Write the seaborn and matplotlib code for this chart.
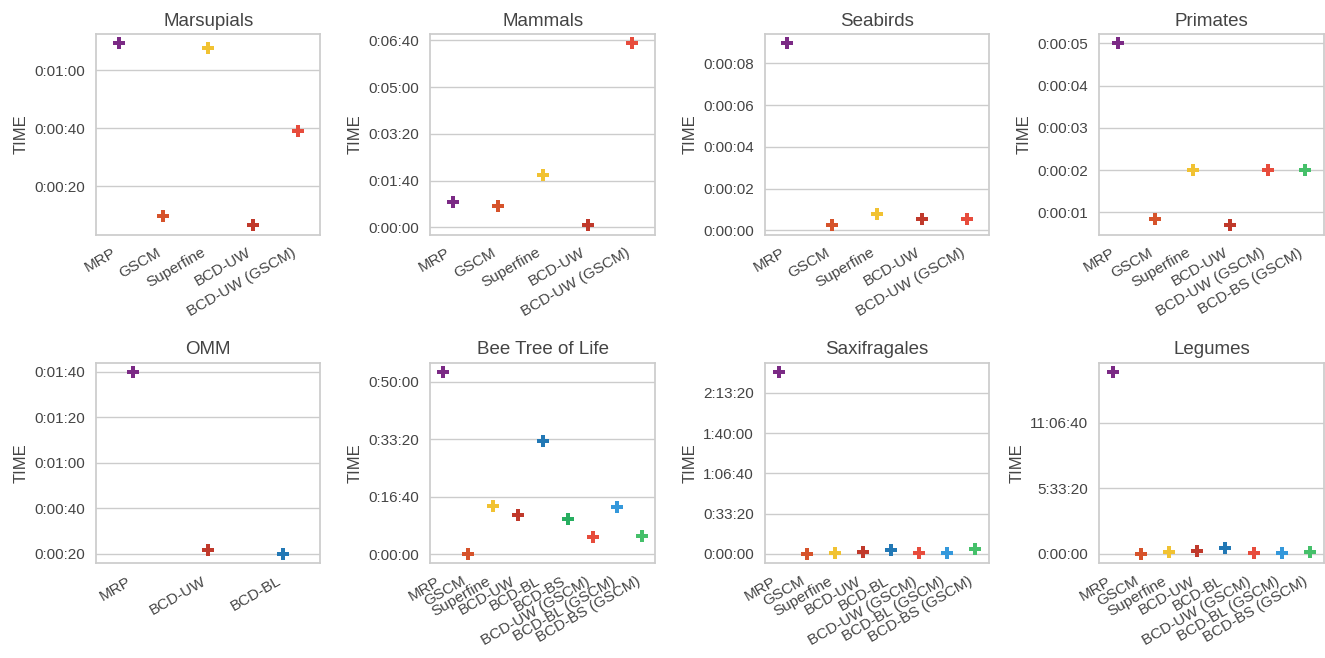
import datetime
import matplotlib
matplotlib.use("Agg")
import matplotlib.pyplot as plt
from matplotlib.ticker import FuncFormatter
import seaborn as sns
import pandas as pd

sns.set_theme(style="whitegrid")
plt.rcParams['font.family'] = ['Liberation Sans', 'DejaVu Sans']

colors = {
    "MRP": "#7B2A85",
    "GSCM": "#D6532B",
    "Superfine": "#F1C232",
    "BCD-UW": "#C0392B",
    "BCD-BL": "#2278B5",
    "BCD-BS": "#27AE60",
    "BCD-UW (GSCM)": "#E74C3C",
    "BCD-BL (GSCM)": "#3498DB",
    "BCD-BS (GSCM)": "#45C06A",
}

titles = ["Marsupials", "Mammals", "Seabirds", "Primates",
          "OMM", "Bee Tree of Life", "Saxifragales", "Legumes"]

marsupials_methods = ["MRP", "GSCM", "Superfine", "BCD-UW", "BCD-UW (GSCM)"]
marsupials_times = [69.3, 10.0, 67.6, 6.6, 39.0]

mammals_methods = ["MRP", "GSCM", "Superfine", "BCD-UW", "BCD-UW (GSCM)"]
mammals_times = [53.5, 45.0, 113.0, 4.3, 393.6]

seabirds_methods = ["MRP", "GSCM", "Superfine", "BCD-UW", "BCD-UW (GSCM)"]
seabirds_times = [8.96, 0.24, 0.77, 0.53, 0.53]

primates_methods = ["MRP", "GSCM", "Superfine", "BCD-UW", "BCD-UW (GSCM)", "BCD-BS (GSCM)"]
primates_times = [5.0, 0.83, 2.0, 0.69, 2.0, 2.0]

omm_methods = ["MRP", "BCD-UW", "BCD-BL"]
omm_times = [100.0, 21.8, 20.0]

bee_methods = ["MRP", "GSCM", "Superfine", "BCD-UW", "BCD-BL", "BCD-BS",
               "BCD-UW (GSCM)", "BCD-BL (GSCM)", "BCD-BS (GSCM)"]
bee_times = [3173, 10, 850, 694, 1977, 624, 295, 832, 312]

saxi_methods = ["MRP", "GSCM", "Superfine", "BCD-UW", "BCD-BL",
                "BCD-UW (GSCM)", "BCD-BL (GSCM)", "BCD-BS (GSCM)"]
saxi_times = [9037, 5, 50, 100, 200, 40, 50, 250]

legumes_methods = ["MRP", "GSCM", "Superfine", "BCD-UW", "BCD-BL",
                   "BCD-UW (GSCM)", "BCD-BL (GSCM)", "BCD-BS (GSCM)"]
legumes_times = [55450, 20, 600, 900, 1800, 300, 300, 500]

datasets = [
    (marsupials_methods, marsupials_times),
    (mammals_methods, mammals_times),
    (seabirds_methods, seabirds_times),
    (primates_methods, primates_times),
    (omm_methods, omm_times),
    (bee_methods, bee_times),
    (saxi_methods, saxi_times),
    (legumes_methods, legumes_times),
]

fig, axes = plt.subplots(2, 4, figsize=(13.25, 6.58), dpi=100)
fig.subplots_adjust(left=0.0725, right=0.999, top=0.948, bottom=0.1444,
                    wspace=0.49, hspace=0.64)

fmt = FuncFormatter(lambda v, p: str(datetime.timedelta(seconds=int(round(v)))))
text_color = "#444444"

for ax, title, (methods, times) in zip(axes.flat, titles, datasets):
    df = pd.DataFrame({"method": methods, "TIME": times})
    sns.stripplot(data=df, x="method", y="TIME", hue="method",
                  palette=colors, marker="P", size=9, jitter=False,
                  legend=False, ax=ax, order=methods)
    ax.set_title(title, fontsize=13.5, color=text_color)
    ax.set_xlabel("")
    ax.set_ylabel("TIME", fontsize=12, color=text_color)
    ax.yaxis.set_major_formatter(fmt)
    ax.tick_params(axis="y", labelsize=11, labelcolor=text_color, pad=2)
    ax.tick_params(axis="x", labelsize=11, labelcolor=text_color, pad=2)
    for lab in ax.get_xticklabels():
        lab.set_rotation(30)
        lab.set_ha("right")
        lab.set_rotation_mode("default")

fig.savefig("out.png", dpi=100)
